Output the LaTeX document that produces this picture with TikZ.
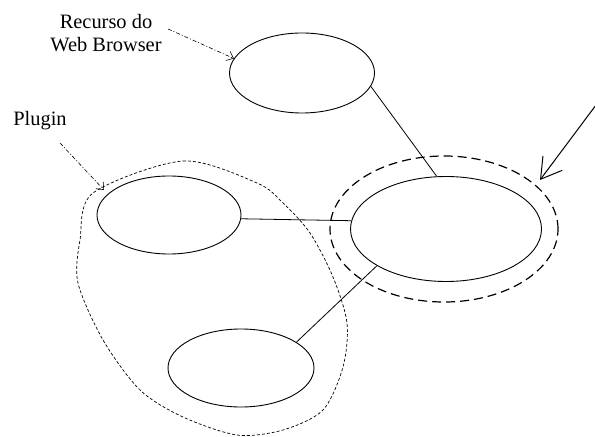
\documentclass[tikz,border=0pt]{standalone}
\usepackage{fontspec}
\setmainfont{Liberation Serif}
\usetikzlibrary{shapes.geometric,arrows.meta}
\tikzset{
	usecase/.style={draw,ellipse,line width=0.9bp,inner sep=0pt},
	note/.style={font=\fontsize{20.5}{22.5}\selectfont,align=center,inner sep=0pt},
	pointer/.style={line width=0.6bp,dash pattern=on 4bp off 2bp on 1bp off 2bp,-{Straight Barb[length=6bp,width=10bp]}},
}
\begin{document}
\begin{tikzpicture}[x=1bp,y=-1bp]
	\useasboundingbox (0,0) rectangle (595,437);
	\node[usecase,minimum width=145bp,minimum height=80bp] (browser) at (302,73) {};
	\node[usecase,minimum width=191bp,minimum height=105bp] (main) at (446,229) {};
	\node[usecase,dashed,line width=1.2bp,dash pattern=on 9bp off 5bp,minimum width=228bp,minimum height=146bp] (ring) at (444,229) {};
	\node[usecase,minimum width=144bp,minimum height=78bp] (plug) at (169,215) {};
	\node[usecase,minimum width=146bp,minimum height=78bp] (lower) at (241,368) {};

	\draw[line width=0.7bp,dash pattern=on 3bp off 2bp] plot[smooth cycle] coordinates {
		(93,193) (183,161) (257,183) (283,203) (310,233) (333,277) (347,323)
		(343,367) (323,410) (283,430) (237,435) (183,417) (140,390) (103,340) (78,283) (80,240)};

	\node[note] (lblbrowser) at (106,33) {Recurso do\\Web Browser};
	\node[note] (lblplug) at (40,121) {Plugin};

	\coordinate (browserfrom) at (168,29);
	\coordinate (plugfrom) at (60,143);
	\coordinate (plugtip) at (104,190);
	\coordinate (hint) at (596,105);
	\coordinate (ringtip) at (540,180);

	\draw[line width=0.8bp] (browser.-11) -- (main.100);
	\draw[line width=0.8bp] (plug.-3) -- (main.175);
	\draw[line width=0.8bp] (lower.25) -- (main.208);

	\draw[pointer] (browserfrom) -- (browser.168);
	\draw[pointer] (plugfrom) -- (plugtip);
	\draw[line width=1bp,-{Straight Barb[length=20bp,width=24bp]}] (hint) -- (ringtip);
\end{tikzpicture}
\end{document}
